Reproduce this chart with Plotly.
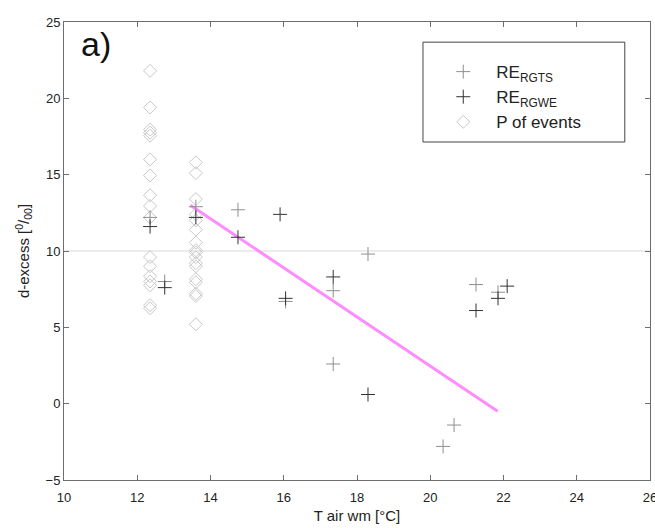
import plotly.graph_objects as go

# RE_RGTS (light gray crosses)
rgts_x = [12.35, 12.75, 13.6, 14.75, 16.05, 17.35, 17.35, 18.3, 20.35, 20.65, 21.25, 21.85]
rgts_y = [12.2, 8.0, 12.9, 12.7, 6.7, 7.4, 2.6, 9.8, -2.8, -1.4, 7.8, 7.3]

# RE_RGWE (dark crosses)
rgwe_x = [12.35, 12.75, 13.6, 14.75, 15.9, 16.05, 17.35, 18.3, 21.25, 21.85, 22.1]
rgwe_y = [11.6, 7.6, 12.2, 10.9, 12.4, 6.9, 8.3, 0.6, 6.1, 6.9, 7.7]

# P of events (diamonds)
p_col1_x = 12.35
p_col1_y = [21.8, 19.4, 17.95, 17.75, 17.55, 16.0, 14.95, 13.65, 12.95, 12.2,
            9.6, 9.0, 8.35, 8.0, 7.75, 6.45, 6.25]
p_col2_x = 13.6
p_col2_y = [15.8, 15.1, 13.4, 12.4, 12.0, 11.4, 10.55, 10.05, 9.9, 9.6,
            9.2, 9.0, 8.15, 7.95, 7.2, 7.05, 5.2]

# regression line endpoints
fit_x = [13.45, 21.84]
fit_y = [13.0, -0.5]

ref_level = 10

x_ticks = [10, 12, 14, 16, 18, 20, 22, 24, 26]
y_ticks = [-5, 0, 5, 10, 15, 20, 25]

p_x = [p_col1_x] * len(p_col1_y) + [p_col2_x] * len(p_col2_y)
p_y = p_col1_y + p_col2_y

GRAY_PLUS = "#8f8f8f"
DARK_PLUS = "#333333"
DIAMOND = "#c8c8c8"

fig = go.Figure()

fig.add_shape(type="line", xref="paper", x0=0, x1=1, yref="y", y0=ref_level, y1=ref_level,
              line=dict(color="#d9d9d9", width=1), layer="below")
# legend frame
fig.add_shape(type="rect", xref="paper", yref="paper", x0=0.6126, x1=0.957, y0=0.738, y1=0.956,
              line=dict(color="#444", width=1), fillcolor="white", layer="above")

fig.add_trace(go.Scatter(x=p_x, y=p_y, mode="markers", name="P of events",
                         marker=dict(symbol="diamond-open", size=10, color=DIAMOND,
                                     line=dict(width=1, color=DIAMOND)),
                         legendrank=3))
fig.add_trace(go.Scatter(x=fit_x, y=fit_y, mode="lines", showlegend=False,
                         line=dict(color="#ff8cff", width=3)))
fig.add_trace(go.Scatter(x=rgts_x, y=rgts_y, mode="markers", name="RE<sub>RGTS</sub>",
                         marker=dict(symbol="cross-thin-open", size=10, color=GRAY_PLUS,
                                     line=dict(width=1, color=GRAY_PLUS)),
                         legendrank=1))
fig.add_trace(go.Scatter(x=rgwe_x, y=rgwe_y, mode="markers", name="RE<sub>RGWE</sub>",
                         marker=dict(symbol="cross-thin-open", size=10, color=DARK_PLUS,
                                     line=dict(width=1, color=DARK_PLUS)),
                         legendrank=2))

axis_common = dict(showline=True, linecolor="#6e6e6e", linewidth=1, mirror="ticks",
                   ticks="inside", ticklen=5, tickcolor="#6e6e6e", showgrid=False,
                   zeroline=False, automargin=False, tickfont=dict(size=13, color="#222"))

fig.update_layout(
    width=655, height=528,
    margin=dict(l=64, r=5, t=22, b=48),
    paper_bgcolor="white", plot_bgcolor="white",
    font=dict(family="Liberation Sans, Arial, sans-serif", color="#222"),
    xaxis=dict(range=[10, 26], tickvals=x_ticks, ticklabeloverflow="allow",
               ticklabelstandoff=5, **axis_common,
               title=dict(text="T air wm [°C]", font=dict(size=15), standoff=6)),
    yaxis=dict(range=[-5, 25], tickvals=y_ticks, **axis_common,
               title=dict(text="d-excess [<sup>0</sup>/<sub>00</sub>]", font=dict(size=15), standoff=12)),
    legend=dict(x=0.625, y=0.93, xanchor="left", yanchor="top",
                borderwidth=0, bgcolor="rgba(0,0,0,0)",
                font=dict(size=17, color="#222"), tracegroupgap=0,
                itemwidth=56),
    showlegend=True,
    annotations=[dict(text="a)", xref="paper", yref="paper", x=0.025, y=0.952,
                      xanchor="left", yanchor="middle", showarrow=False,
                      font=dict(size=34, color="#111"))],
)

fig.write_html("out.html")
